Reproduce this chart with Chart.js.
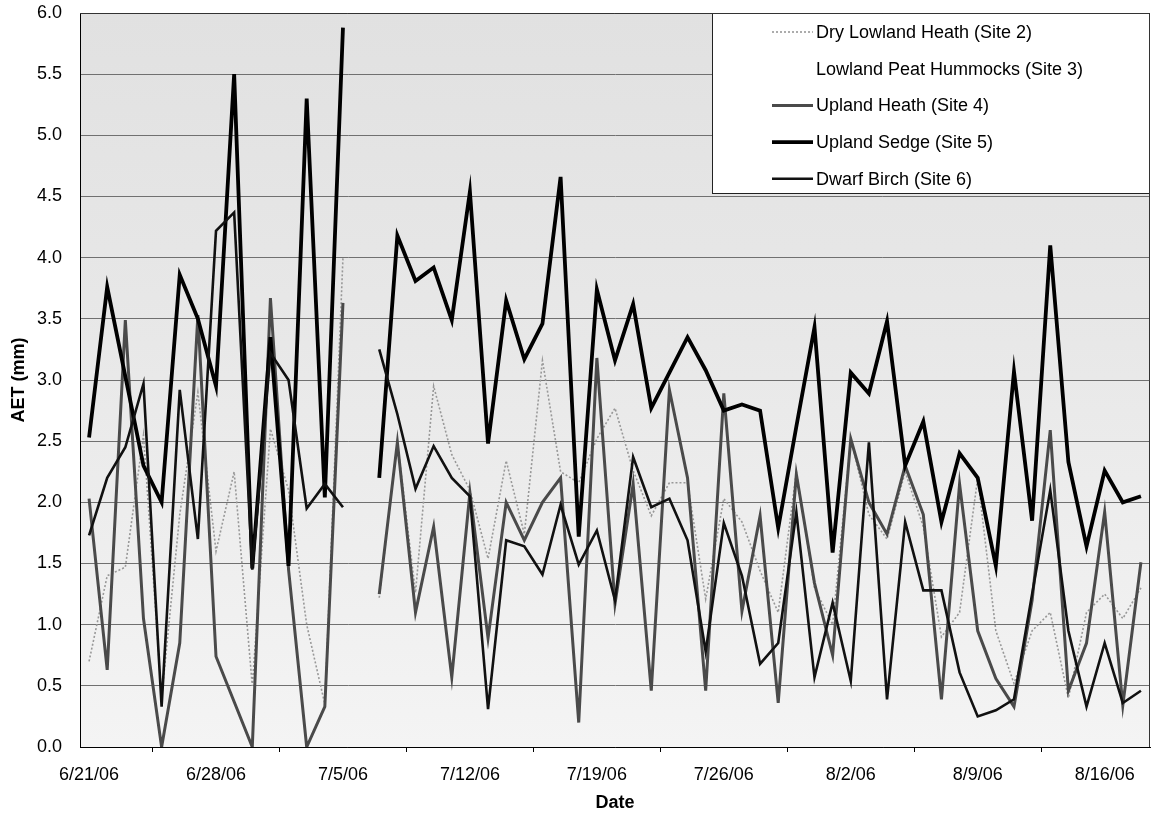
<!DOCTYPE html>
<html>
<head>
<meta charset="utf-8">
<script src="https://cdn.jsdelivr.net/npm/chart.js@4/dist/chart.umd.min.js"></script>
<style>
  html, body { margin: 0; padding: 0; background: #ffffff; }
  #wrap { width: 1158px; height: 817px; position: relative; }
</style>
</head>
<body>
<div id="wrap"><canvas id="c"></canvas></div>
<script>
// ---- categories (one point per day) ----
const dates = [
  '6/21/06','6/22/06','6/23/06','6/24/06','6/25/06','6/26/06','6/27/06','6/28/06','6/29/06','6/30/06',
  '7/1/06','7/2/06','7/3/06','7/4/06','7/5/06','7/6/06','7/7/06','7/8/06','7/9/06','7/10/06',
  '7/11/06','7/12/06','7/13/06','7/14/06','7/15/06','7/16/06','7/17/06','7/18/06','7/19/06','7/20/06',
  '7/21/06','7/22/06','7/23/06','7/24/06','7/25/06','7/26/06','7/27/06','7/28/06','7/29/06','7/30/06',
  '7/31/06','8/1/06','8/2/06','8/3/06','8/4/06','8/5/06','8/6/06','8/7/06','8/8/06','8/9/06',
  '8/10/06','8/11/06','8/12/06','8/13/06','8/14/06','8/15/06','8/16/06','8/17/06','8/18/06'
];

// ---- tick labels shown on the x axis ----
const xTickLabels = ['6/21/06','6/28/06','7/5/06','7/12/06','7/19/06','7/26/06','8/2/06','8/9/06','8/16/06'];

// ---- y axis ticks ----
const yMin = 0, yMax = 6, yStep = 0.5;

// ---- series values (AET, mm) ----
const dryLowlandHeath = [
  0.70, 1.40, 1.47, 2.55, 0.40, 1.90, 2.90, 1.60, 2.25, 0.50, 2.60, 2.10, 1.00, 0.35, 4.00,
  null,
  1.22, 2.50, 1.26, 2.95, 2.39, 2.10, 1.54, 2.34, 1.74, 3.16, 2.25, 2.16, 2.52, 2.77, 2.26, 1.89, 2.16, 2.16, 1.21, 2.03, 1.84, 1.44,
  1.10, 2.25, 1.30, 1.00, 2.52, 1.90, 1.70, 2.25, 1.80, 0.90, 1.10, 2.20, 0.95, 0.52, 0.95, 1.10, 0.40, 1.10, 1.25, 1.05, 1.30
];
const lowlandPeatHummocks = []; // drawn white in the original, not readable
const uplandHeath = [
  2.03, 0.63, 3.49, 1.05, 0.00, 0.85, 3.53, 0.74, 0.37, 0.00, 3.67, 1.45, 0.00, 0.33, 3.63,
  null,
  1.25, 2.49, 1.10, 1.80, 0.57, 2.08, 0.89, 2.00, 1.69, 2.00, 2.20, 0.20, 3.18, 1.17, 2.15, 0.46, 2.92, 2.20, 0.46, 2.89, 1.11, 1.89,
  0.36, 2.23, 1.34, 0.75, 2.52, 2.00, 1.74, 2.30, 1.90, 0.39, 2.15, 0.95, 0.56, 0.33, 1.20, 2.59, 0.46, 0.85, 1.92, 0.34, 1.51
];
const uplandSedge = [
  2.53, 3.76, 3.03, 2.30, 2.00, 3.86, 3.50, 2.95, 5.50, 1.46, 3.35, 1.48, 5.30, 2.04, 5.88,
  null,
  2.20, 4.18, 3.81, 3.92, 3.49, 4.54, 2.48, 3.65, 3.17, 3.46, 4.66, 1.72, 3.74, 3.16, 3.62, 2.77, 3.06, 3.35, 3.08, 2.75, 2.80, 2.75,
  1.79, 2.62, 3.43, 1.59, 3.06, 2.89, 3.48, 2.30, 2.66, 1.84, 2.40, 2.20, 1.48, 3.07, 1.85, 4.10, 2.33, 1.64, 2.26, 2.00, 2.05
];
const dwarfBirch = [
  1.73, 2.20, 2.45, 2.97, 0.33, 2.92, 1.70, 4.22, 4.37, 1.45, 3.22, 3.00, 1.95, 2.15, 1.96,
  null,
  3.25, 2.72, 2.11, 2.46, 2.20, 2.05, 0.31, 1.69, 1.64, 1.41, 1.98, 1.49, 1.77, 1.20, 2.37, 1.96, 2.03, 1.69, 0.78, 1.83, 1.40, 0.68,
  0.85, 1.92, 0.57, 1.18, 0.54, 2.49, 0.39, 1.84, 1.28, 1.28, 0.61, 0.25, 0.30, 0.39, 1.25, 2.10, 0.95, 0.33, 0.85, 0.36, 0.46
];

const seriesNames = [
  'Dry Lowland Heath (Site 2)',
  'Lowland Peat Hummocks (Site 3)',
  'Upland Heath (Site 4)',
  'Upland Sedge (Site 5)',
  'Dwarf Birch (Site 6)'
];

const FONT = "'Liberation Sans', Arial, sans-serif";

// plot-area background (scanned grey)
const bgPlugin = {
  id: 'plotBg',
  beforeDraw(chart) {
    const {ctx, chartArea: a} = chart;
    ctx.save();
    ctx.fillStyle = '#ffffff';
    ctx.fillRect(0, 0, chart.width, chart.height);
    const g = ctx.createLinearGradient(0, a.top, 0, a.bottom);
    g.addColorStop(0, '#e1e1e1');
    g.addColorStop(0.45, '#e8e8e8');
    g.addColorStop(1, '#f4f4f4');
    ctx.fillStyle = g;
    ctx.fillRect(a.left, a.top, a.right - a.left, a.bottom - a.top);
    ctx.restore();
  }
};

// legend box drawn inside plot area (top right), like the original
const legendPlugin = {
  id: 'boxLegend',
  afterDatasetsDraw(chart) {
    const {ctx, chartArea: a} = chart;
    const x0 = 712, y0 = a.top, x1 = a.right, y1 = 193;
    ctx.save();
    ctx.fillStyle = '#ffffff';
    ctx.fillRect(x0, y0, x1 - x0, y1 - y0);
    ctx.strokeStyle = '#222';
    ctx.lineWidth = 1;
    ctx.setLineDash([]);
    ctx.strokeRect(x0 + 0.5, y0 + 0.5, x1 - x0 - 1, y1 - y0);
    ctx.font = '18px ' + FONT;
    ctx.textBaseline = 'middle';
    ctx.textAlign = 'left';
    chart.data.datasets.forEach((ds, i) => {
      const y = 32 + i * 36.7;
      ctx.save();
      ctx.strokeStyle = ds.borderColor;
      ctx.lineWidth = ds.borderWidth;
      ctx.setLineDash(ds.borderDash || []);
      ctx.beginPath();
      ctx.moveTo(772, y);
      ctx.lineTo(813, y);
      ctx.stroke();
      ctx.restore();
      ctx.fillStyle = '#000';
      ctx.fillText(ds.label, 816, y + 1);
    });
    ctx.restore();
  },
  afterDraw(chart) {
    const {ctx, chartArea: a} = chart;
    ctx.save();
    ctx.strokeStyle = '#333';
    ctx.lineWidth = 1;
    ctx.setLineDash([]);
    ctx.beginPath();
    ctx.moveTo(a.left, a.top + 0.5);
    ctx.lineTo(a.right - 0.5, a.top + 0.5);
    ctx.lineTo(a.right - 0.5, a.bottom);
    ctx.stroke();
    ctx.restore();
  }
};

const datasets = [
  { label: seriesNames[0], data: dryLowlandHeath, borderColor: '#989898', borderWidth: 1.6, borderDash: [2, 2], order: 5 },
  { label: seriesNames[1], data: lowlandPeatHummocks, borderColor: '#ffffff', borderWidth: 2, order: 4 },
  { label: seriesNames[2], data: uplandHeath, borderColor: '#4a4a4a', borderWidth: 3, order: 3 },
  { label: seriesNames[3], data: uplandSedge, borderColor: '#000000', borderWidth: 3.8, order: 2 },
  { label: seriesNames[4], data: dwarfBirch, borderColor: '#111111', borderWidth: 2.6, order: 1 }
].map(d => Object.assign({
  pointRadius: 0, pointHoverRadius: 0, tension: 0, fill: false, spanGaps: false
}, d));

new Chart(document.getElementById('c'), {
  type: 'line',
  data: { labels: dates, datasets },
  plugins: [bgPlugin, legendPlugin],
  options: {
    responsive: true,
    maintainAspectRatio: false,
    animation: false,
    events: [],
    layout: { padding: { top: 13, right: 8, left: 0, bottom: 0 } },
    plugins: { legend: { display: false }, tooltip: { enabled: false }, title: { display: false } },
    scales: {
      x: {
        type: 'category',
        offset: true,
        grid: { display: true, offset: true, drawOnChartArea: false, drawTicks: true, tickLength: 5, color: '#000' },
        border: { display: true, color: '#000', width: 1 },
        ticks: {
          autoSkip: false, maxRotation: 0, minRotation: 0, padding: 12,
          color: '#000', font: { family: FONT, size: 18 },
          callback(value, index) {
            const lab = dates[index];
            return xTickLabels.includes(lab) ? lab : null;
          }
        },
        title: { display: true, text: 'Date', color: '#000', font: { family: FONT, size: 18, weight: 'bold' }, padding: { top: 0, bottom: 3 } },
        afterFit(scale) { scale.height = 70; scale.paddingLeft = 0; scale.paddingRight = 0; }
      },
      y: {
        min: yMin, max: yMax,
        grid: { color: '#707070', lineWidth: 1, drawTicks: false },
        border: { display: true, color: '#000', width: 1 },
        ticks: {
          stepSize: yStep, padding: 18, color: '#000', font: { family: FONT, size: 18 },
          callback(v) { return Number(v).toFixed(1); }
        },
        title: { display: true, text: 'AET (mm)', color: '#000', font: { family: FONT, size: 18, weight: 'bold' }, padding: { top: 8, bottom: 0 } },
        afterFit(scale) { scale.width = 80; scale.paddingTop = 0; scale.paddingBottom = 0; }
      }
    }
  }
});
</script>
</body>
</html>
